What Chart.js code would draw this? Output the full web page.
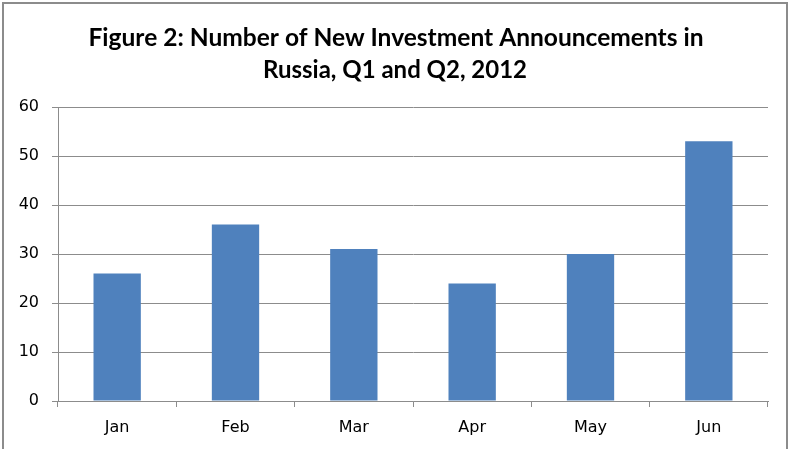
<!DOCTYPE html>
<html>
<head>
<meta charset="utf-8">
<script src="https://cdn.jsdelivr.net/npm/chart.js@4"></script>
<style>
  html, body { margin: 0; padding: 0; background: #fff; }
  #wrap { position: relative; width: 792px; height: 449px; overflow: hidden; }
  #frame { position: absolute; left: 2px; top: 2px; width: 786px; height: 470px; border: 2px solid #8c8c8c; box-sizing: border-box; pointer-events: none; }
  canvas { position: absolute; left: 0; top: 0; }
</style>
</head>
<body>
<div id="wrap">
  <canvas id="c" width="792" height="449"></canvas>
  <div id="frame"></div>
</div>
<script>
const titleLines = ["Figure 2: Number of New Investment Announcements in", "Russia, Q1 and Q2, 2012"];
const categories = ["Jan", "Feb", "Mar", "Apr", "May", "Jun"];
const announcements = [26, 36, 31, 24, 30, 53];
const yTicks = [0, 10, 20, 30, 40, 50, 60];

const titlePlugin = {
  id: 'twoLineTitle',
  afterDraw(chart) {
    const ctx = chart.ctx;
    ctx.save();
    ctx.fillStyle = '#000';
    ctx.textAlign = 'center';
    ctx.textBaseline = 'alphabetic';
    ctx.font = 'bold 25px Lato';
    ctx.fillText(titleLines[0], 396, 46, 615);
    ctx.fillText(titleLines[1], 395, 78, 264);
    ctx.restore();
  }
};

new Chart(document.getElementById('c'), {
  type: 'bar',
  data: {
    labels: categories,
    datasets: [{
      data: announcements,
      backgroundColor: '#4F81BD',
      borderWidth: 0,
      barPercentage: 0.4,
      categoryPercentage: 1.0
    }]
  },
  options: {
    responsive: false,
    animation: false,
    devicePixelRatio: 1,
    layout: { padding: { top: 107, right: 24, bottom: 0, left: 0 } },
    plugins: { legend: { display: false }, title: { display: false }, tooltip: { enabled: false } },
    scales: {
      x: {
        afterFit(s) { s.height = 48; },
        grid: { display: true, drawOnChartArea: false, drawTicks: true, tickLength: 6, color: '#8c8c8c', offset: true },
        border: { display: true, color: '#8c8c8c', width: 1 },
        ticks: { color: '#000', font: { family: 'DejaVu Sans', size: 16 }, padding: 11 }
      },
      y: {
        min: 0, max: 60,
        afterFit(s) { s.width = 58; },
        afterBuildTicks(s) { s.ticks = yTicks.map(v => ({ value: v })); },
        grid: { color: '#8c8c8c', lineWidth: 1, tickLength: 6, drawTicks: true },
        border: { display: true, color: '#8c8c8c', width: 1 },
        ticks: { color: '#000', font: { family: 'DejaVu Sans', size: 16 }, padding: 13 }
      }
    }
  },
  plugins: [titlePlugin]
});
</script>
</body>
</html>
